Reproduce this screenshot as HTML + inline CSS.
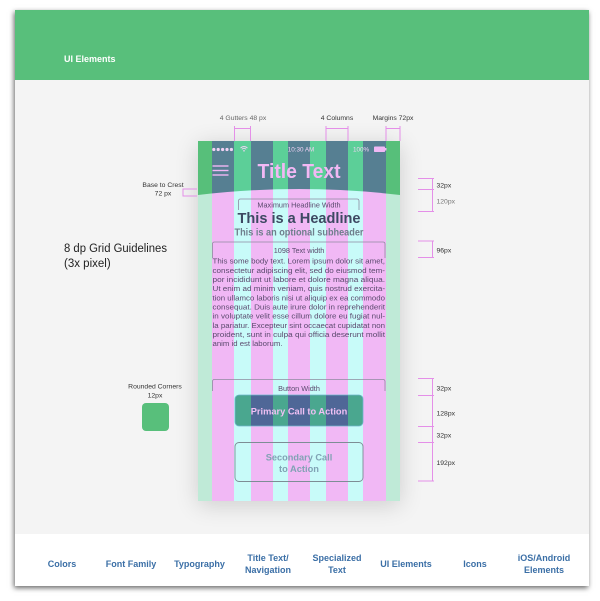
<!DOCTYPE html>
<html>
<head>
<meta charset="utf-8">
<style>
  html,body{margin:0;padding:0;background:#ffffff;}
  body{width:600px;height:601px;position:relative;overflow:hidden;font-family:"Liberation Sans",Arial,sans-serif;}
  .card{position:absolute;left:15px;top:10px;width:574px;height:576px;background:#f4f4f4;box-shadow:-1px 2px 5px rgba(0,0,0,0.6);}
  .phoneshadow{position:absolute;left:198px;top:141px;width:202px;height:360px;box-shadow:0 4px 22px rgba(0,0,0,0.16);}
  svg{position:absolute;left:0;top:0;}
</style>
</head>
<body>
<div class="card"></div>
<div class="phoneshadow"></div>
<svg width="600" height="601" viewBox="0 0 600 601" xmlns="http://www.w3.org/2000/svg" font-family="Liberation Sans, Arial, sans-serif">
  <defs>
    <clipPath id="hdr"><path d="M198,141 H400 V195 Q299,183 198,195 Z"/></clipPath>
    <clipPath id="pbtn"><rect x="235" y="395" width="128" height="31" rx="4"/></clipPath>
  </defs>

  <!-- green top bar -->
  <rect x="15" y="10" width="574" height="70" fill="#58bf7b"/>
  <text x="64" y="62" font-size="9" font-weight="bold" fill="#ffffff" textLength="51.5" lengthAdjust="spacingAndGlyphs">UI Elements</text>

  <!-- nav bar -->
  <rect x="15" y="534" width="574" height="52" fill="#ffffff"/>
  <g font-size="9" font-weight="bold" fill="#3b6fa6" text-anchor="middle">
    <text x="62" y="567">Colors</text>
    <text x="131" y="567">Font Family</text>
    <text x="199.5" y="567">Typography</text>
    <text x="268" y="561">Title Text/</text>
    <text x="268" y="573">Navigation</text>
    <text x="337" y="561">Specialized</text>
    <text x="337" y="573">Text</text>
    <text x="406" y="567">UI Elements</text>
    <text x="475" y="567">Icons</text>
    <text x="544" y="561">iOS/Android</text>
    <text x="544" y="573">Elements</text>
  </g>

  <!-- left labels -->
  <text x="64" y="252" font-size="11.5" fill="#222" textLength="103" lengthAdjust="spacingAndGlyphs">8 dp Grid Guidelines</text>
  <text x="64" y="267" font-size="11.5" fill="#222">(3x pixel)</text>
  <g font-size="6.8" fill="#333" text-anchor="middle">
    <text x="163" y="187">Base to Crest</text>
    <text x="163" y="195.5">72 px</text>
    <text x="155" y="388.5">Rounded Corners</text>
    <text x="155" y="397.5">12px</text>
  </g>
  <rect x="142" y="403" width="27" height="28" rx="4" fill="#58bf7b"/>
  <g stroke="#e48fe8" stroke-width="1" fill="none">
    <path d="M197,189 H183 V196 H197"/>
  </g>

  <!-- top annotations -->
  <g font-size="6.8" text-anchor="middle">
    <text x="243" y="120" fill="#666">4 Gutters 48 px</text>
    <text x="337" y="120" fill="#333">4 Columns</text>
    <text x="393" y="120" fill="#333">Margins 72px</text>
  </g>
  <g stroke="#e48fe8" stroke-width="1" fill="none">
    <path d="M234.5,141 V126 M250.5,141 V126 M234.5,128.5 H250.5"/>
    <path d="M326,141 V126 M348,141 V126 M326,128.5 H348"/>
    <path d="M386,141 V126 M400,141 V126 M386,128.5 H400"/>
  </g>

  <!-- right annotations -->
  <g stroke="#e48fe8" stroke-width="1" fill="none">
    <path d="M432.5,178.5 V211.5 M418,178.5 H434 M418,189.5 H434 M418,211.5 H434"/>
    <path d="M432.5,241 V257.5 M418,241 H434 M418,257.5 H434"/>
    <path d="M432.5,378.5 V481 M418,378.5 H434 M418,395.5 H434 M418,426.5 H434 M418,442.5 H434 M418,481 H434"/>
  </g>
  <g font-size="6.8" fill="#333">
    <text x="436.5" y="187.5">32px</text>
    <text x="436.5" y="203.5" fill="#777">120px</text>
    <text x="436.5" y="252.5">96px</text>
    <text x="436.5" y="390.5">32px</text>
    <text x="436.5" y="415.5">128px</text>
    <text x="436.5" y="437.5">32px</text>
    <text x="436.5" y="465">192px</text>
  </g>

  <!-- phone body stripes -->
  <g>
    <rect x="198" y="141" width="14" height="360" fill="#bfead7"/>
    <rect x="212" y="141" width="22" height="360" fill="#f1b8f5"/>
    <rect x="234" y="141" width="17" height="360" fill="#c8fbf9"/>
    <rect x="251" y="141" width="22" height="360" fill="#f1b8f5"/>
    <rect x="273" y="141" width="15" height="360" fill="#c8fbf9"/>
    <rect x="288" y="141" width="22" height="360" fill="#f1b8f5"/>
    <rect x="310" y="141" width="16" height="360" fill="#c8fbf9"/>
    <rect x="326" y="141" width="22" height="360" fill="#f1b8f5"/>
    <rect x="348" y="141" width="15" height="360" fill="#c8fbf9"/>
    <rect x="363" y="141" width="23" height="360" fill="#f1b8f5"/>
    <rect x="386" y="141" width="14" height="360" fill="#bfead7"/>
  </g>

  <!-- header -->
  <g clip-path="url(#hdr)">
    <rect x="198" y="141" width="14" height="60" fill="#57bf7a"/>
    <rect x="212" y="141" width="22" height="60" fill="#567f92"/>
    <rect x="234" y="141" width="17" height="60" fill="#5ccf98"/>
    <rect x="251" y="141" width="22" height="60" fill="#567f92"/>
    <rect x="273" y="141" width="15" height="60" fill="#5ccf98"/>
    <rect x="288" y="141" width="22" height="60" fill="#567f92"/>
    <rect x="310" y="141" width="16" height="60" fill="#5ccf98"/>
    <rect x="326" y="141" width="22" height="60" fill="#567f92"/>
    <rect x="348" y="141" width="15" height="60" fill="#5ccf98"/>
    <rect x="363" y="141" width="23" height="60" fill="#567f92"/>
    <rect x="386" y="141" width="14" height="60" fill="#57bf7a"/>
  </g>

  <!-- status bar -->
  <g fill="#f2d2f5">
    <circle cx="213.8" cy="149.5" r="1.6"/>
    <circle cx="218.2" cy="149.5" r="1.6"/>
    <circle cx="222.6" cy="149.5" r="1.6"/>
    <circle cx="227" cy="149.5" r="1.6"/>
    <circle cx="231.4" cy="149.5" r="1.6"/>
  </g>
  <g stroke="#f2d2f5" stroke-width="0.9" fill="none">
    <path d="M240.5,148 Q244,145 247.5,148"/>
    <path d="M241.8,149.3 Q244,147.3 246.2,149.3"/>
  </g>
  <circle cx="244" cy="150.8" r="0.8" fill="#f2d2f5"/>
  <text x="301" y="151.5" font-size="6.3" fill="#f2d2f5" text-anchor="middle">10:30 AM</text>
  <text x="353" y="151.5" font-size="6.3" fill="#f2d2f5">100%</text>
  <rect x="374" y="146.5" width="11" height="5.5" rx="0.8" fill="#f1b8f5"/>
  <rect x="385" y="148" width="1.5" height="2.5" fill="#f1b8f5"/>

  <!-- nav row -->
  <g stroke="#f1b8f5" stroke-width="1.4">
    <line x1="212.5" y1="166" x2="228.5" y2="166"/>
    <line x1="212.5" y1="170.5" x2="228.5" y2="170.5"/>
    <line x1="212.5" y1="175" x2="228.5" y2="175"/>
  </g>
  <text x="299" y="178" font-size="20" font-weight="bold" fill="#f2b8f4" text-anchor="middle" textLength="83" lengthAdjust="spacingAndGlyphs">Title Text</text>

  <!-- headline area -->
  <path d="M238.5,210 V201 Q238.5,199 240.5,199 H357 Q359,199 359,201 V210" stroke="#8e8aa0" stroke-width="0.8" fill="none"/>
  <text x="299" y="207.5" font-size="7.3" fill="#5b4a6e" text-anchor="middle">Maximum Headline Width</text>
  <text x="299" y="223" font-size="15" font-weight="bold" fill="#3d4962" text-anchor="middle" textLength="123" lengthAdjust="spacingAndGlyphs">This is a Headline</text>
  <text x="299" y="235.5" font-size="10" font-weight="bold" fill="#6f7e8c" text-anchor="middle" textLength="129" lengthAdjust="spacingAndGlyphs">This is an optional subheader</text>

  <!-- text width -->
  <path d="M212.5,258 V244 Q212.5,242 214.5,242 H383 Q385,242 385,244 V258" stroke="#8e8aa0" stroke-width="0.8" fill="none"/>
  <text x="299" y="252.8" font-size="7.3" fill="#5b4a6e" text-anchor="middle">1098 Text width</text>
  <g font-size="7.6" fill="#5b4a6e">
    <text x="212.5" y="263.6" textLength="172.5" lengthAdjust="spacingAndGlyphs">This some body text. Lorem ipsum dolor sit amet,</text>
    <text x="212.5" y="272.8" textLength="172.5" lengthAdjust="spacingAndGlyphs">consectetur adipiscing elit, sed do eiusmod tem-</text>
    <text x="212.5" y="281.9" textLength="172.5" lengthAdjust="spacingAndGlyphs">por incididunt ut labore et dolore magna aliqua.</text>
    <text x="212.5" y="291.1" textLength="172.5" lengthAdjust="spacingAndGlyphs">Ut enim ad minim veniam, quis nostrud exercita-</text>
    <text x="212.5" y="300.3" textLength="172.5" lengthAdjust="spacingAndGlyphs">tion ullamco laboris nisi ut aliquip ex ea commodo</text>
    <text x="212.5" y="309.4" textLength="172.5" lengthAdjust="spacingAndGlyphs">consequat. Duis aute irure dolor in reprehenderit</text>
    <text x="212.5" y="318.6" textLength="172.5" lengthAdjust="spacingAndGlyphs">in voluptate velit esse cillum dolore eu fugiat nul-</text>
    <text x="212.5" y="327.8" textLength="172.5" lengthAdjust="spacingAndGlyphs">la pariatur. Excepteur sint occaecat cupidatat non</text>
    <text x="212.5" y="336.9" textLength="172.5" lengthAdjust="spacingAndGlyphs">proident, sunt in culpa qui officia deserunt mollit</text>
    <text x="212.5" y="346.1" textLength="70" lengthAdjust="spacingAndGlyphs">anim id est laborum.</text>
  </g>

  <!-- button width -->
  <path d="M212.5,391 V381.5 Q212.5,379.5 214.5,379.5 H383 Q385,379.5 385,381.5 V391" stroke="#8e8aa0" stroke-width="0.8" fill="none"/>
  <text x="299" y="391" font-size="7.3" fill="#5b4a6e" text-anchor="middle">Button Width</text>

  <!-- primary button -->
  <g clip-path="url(#pbtn)">
    <rect x="234" y="395" width="17" height="31" fill="#4aa78f"/>
    <rect x="251" y="395" width="22" height="31" fill="#4f6797"/>
    <rect x="273" y="395" width="15" height="31" fill="#4aa78f"/>
    <rect x="288" y="395" width="22" height="31" fill="#4f6797"/>
    <rect x="310" y="395" width="16" height="31" fill="#4aa78f"/>
    <rect x="326" y="395" width="22" height="31" fill="#4f6797"/>
    <rect x="348" y="395" width="16" height="31" fill="#4aa78f"/>
  </g>
  <rect x="235" y="395" width="128" height="31" rx="4" fill="none" stroke="#6fb6cc" stroke-width="0.8"/>
  <text x="299" y="414.3" font-size="9.5" font-weight="bold" fill="#f0c0f4" text-anchor="middle" textLength="96.5" lengthAdjust="spacingAndGlyphs">Primary Call to Action</text>

  <!-- secondary button -->
  <rect x="235" y="442.5" width="128" height="39" rx="4" fill="none" stroke="#7d8d95" stroke-width="0.9"/>
  <text x="299" y="460.5" font-size="9.5" font-weight="bold" fill="#80a2b4" text-anchor="middle" textLength="66.5" lengthAdjust="spacingAndGlyphs">Secondary Call</text>
  <text x="299" y="472" font-size="9.5" font-weight="bold" fill="#80a2b4" text-anchor="middle" textLength="40" lengthAdjust="spacingAndGlyphs">to Action</text>
</svg>
</body>
</html>
